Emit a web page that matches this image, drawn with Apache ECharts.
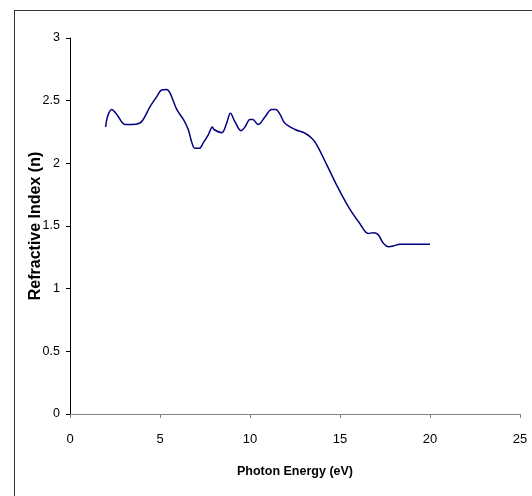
<!DOCTYPE html>
<html>
<head>
<meta charset="utf-8">
<script src="https://cdn.jsdelivr.net/npm/echarts@6/dist/echarts.min.js"></script>
<style>
html,body{margin:0;padding:0;background:#fff;overflow:hidden;}
#frame{position:absolute;left:14px;top:10px;width:700px;height:700px;border:1px solid #333;box-sizing:border-box;}
#chart{position:absolute;left:0;top:0;width:532px;height:496px;}
</style>
</head>
<body>
<div id="frame"></div>
<div id="chart"></div>
<script>
const energy = [1.98, 2.1, 2.32, 2.6, 3.06, 3.43, 3.85, 4.07, 4.44, 4.81, 5.09, 5.37, 5.56, 5.93, 6.3, 6.57, 6.76, 6.94, 7.18, 7.41, 7.69, 7.91, 8.0, 8.43, 8.7, 8.91, 9.17, 9.5, 9.72, 10.0, 10.15, 10.45, 10.83, 11.2, 11.44, 11.67, 11.94, 12.5, 13.06, 13.43, 13.7, 14.26, 14.8, 15.46, 16.1, 16.57, 16.85, 17.13, 17.37, 17.69, 17.96, 18.33, 19.26, 20.0];
const refIndex = [2.29, 2.38, 2.43, 2.39, 2.31, 2.31, 2.32, 2.35, 2.45, 2.53, 2.585, 2.59, 2.56, 2.43, 2.35, 2.27, 2.17, 2.12, 2.12, 2.165, 2.23, 2.29, 2.27, 2.245, 2.32, 2.40, 2.33, 2.26, 2.29, 2.35, 2.35, 2.31, 2.37, 2.43, 2.43, 2.39, 2.32, 2.27, 2.24, 2.20, 2.15, 1.99, 1.83, 1.655, 1.52, 1.44, 1.447, 1.43, 1.37, 1.335, 1.34, 1.355, 1.355, 1.355];
const xTicks = [0, 5, 10, 15, 20, 25];
const yTicks = [0, 0.5, 1, 1.5, 2, 2.5, 3];

const font = '"Liberation Sans", Arial, sans-serif';
const chart = echarts.init(document.getElementById('chart'));
chart.setOption({
  animation: false,
  grid: {left: 70, right: 12, top: 38, bottom: 82, containLabel: false},
  xAxis: {
    type: 'value', min: xTicks[0], max: xTicks[xTicks.length-1], interval: 5,
    name: 'Photon Energy (eV)', nameLocation: 'middle', nameGap: 51, nameMoveOverlap: false,
    nameTextStyle: {fontFamily: font, fontSize: 12.5, fontWeight: 'bold', color: '#000'},
    axisLine: {show: true, onZero: false, lineStyle: {color: '#808080', width: 1}},
    axisTick: {show: true, inside: false, length: 4, lineStyle: {color: '#808080'}},
    axisLabel: {fontFamily: font, fontSize: 13, color: '#000', margin: 19},
    splitLine: {show: false}
  },
  yAxis: {
    type: 'value', min: yTicks[0], max: yTicks[yTicks.length-1], interval: 0.5,
    name: 'Refractive Index (n)', nameLocation: 'middle', nameGap: 26, nameRotate: 90, nameMoveOverlap: false,
    nameTextStyle: {fontFamily: font, fontSize: 16, fontWeight: 'bold', color: '#000'},
    axisLine: {show: true, lineStyle: {color: '#000', width: 1}},
    axisTick: {show: true, inside: false, length: 4, lineStyle: {color: '#000'}},
    axisLabel: {fontFamily: font, fontSize: 12.5, color: '#000', margin: 10},
    splitLine: {show: false}
  },
  series: [{
    type: 'line',
    data: energy.map((e, i) => [e, refIndex[i]]),
    showSymbol: false,
    smooth: 0.35,
    lineStyle: {color: '#000080', width: 1.5}
  }]
});
</script>
</body>
</html>
